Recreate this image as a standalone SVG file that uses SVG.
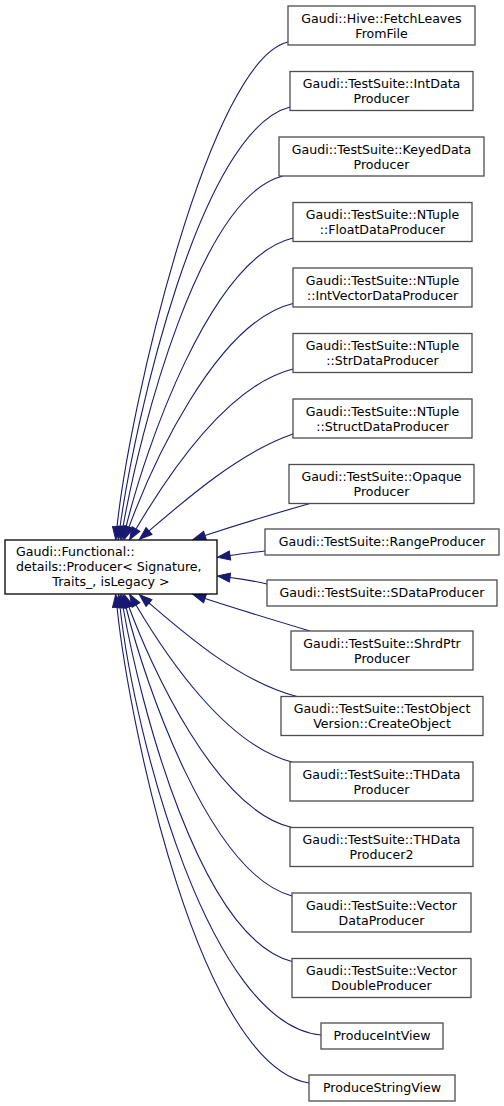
<svg xmlns="http://www.w3.org/2000/svg" width="504" height="1106" viewBox="0 0 504 1106">
<style>
.n rect{fill:#ffffff;stroke:#4d4d4d;stroke-width:1.3}
.m rect{fill:#ffffff;stroke:#000000;stroke-width:1.3}
text{font-family:"DejaVu Sans","Liberation Sans",sans-serif;font-size:12.6px;fill:#000000}
.c{text-anchor:middle}
.e path{fill:none;stroke:#191970;stroke-width:1.1;marker-start:url(#ah)}
</style>
<defs>
<marker id="ah" markerUnits="userSpaceOnUse" viewBox="-1 -1 15 11" markerWidth="15" markerHeight="11" refX="0" refY="4.5" orient="auto-start-reverse">
<path d="M0,0 L12.6,4.5 L0,9 z" fill="#191970" stroke="#191970" stroke-width="1"/>
</marker>
</defs>
<rect width="504" height="1106" fill="#ffffff"/>
<g id="connectors" class="e">
<path d="M117,527 C130,404 210,60 288,42"/>
<path d="M120,527 C135,420 200,130 290,107"/>
<path d="M123,527 C140,430 200,196 283,176"/>
<path d="M126,527 C145,450 210,258 293,238"/>
<path d="M129,527 C150,470 215,322 293,303.5"/>
<path d="M136,529 C165,480 225,386 293,369"/>
<path d="M149,531 C185,500 240,452 293,434"/>
<path d="M205,535.5 C240,524 280,512 310,503.5"/>
<path d="M230,555.5 C240,554 252,552.5 265,551"/>
<path d="M230,577.5 C242,579 254,581 267,584"/>
<path d="M205,598.5 C240,610 280,622 310,631"/>
<path d="M149,603 C185,634 240,682 297,696.5"/>
<path d="M136,605 C165,654 225,745 292,762"/>
<path d="M129,607 C150,664 215,810 292,827.5"/>
<path d="M126,607 C145,684 210,874 292,896"/>
<path d="M123,607 C140,704 200,938 292,961.5"/>
<path d="M120,607 C135,740 210,1025 321,1035"/>
<path d="M117,607 C130,730 200,1065 309,1083"/>
</g>
<g id="main" class="m">
<rect x="5" y="540" width="212" height="54"/>
<text x="16" y="556">Gaudi::Functional::</text>
<text x="16" y="571">details::Producer&lt; Signature,</text>
<text x="111" y="586" class="c">Traits_, isLegacy &gt;</text>
</g>
<g id="n1" class="n"><rect x="288" y="6" width="187" height="39"/><text x="381.5" y="22.5" class="c">Gaudi::Hive::FetchLeaves</text><text x="381.5" y="37.5" class="c">FromFile</text></g>
<g id="n2" class="n"><rect x="290" y="71.5" width="183" height="39"/><text x="381.5" y="88" class="c">Gaudi::TestSuite::IntData</text><text x="381.5" y="103" class="c">Producer</text></g>
<g id="n3" class="n"><rect x="279" y="137" width="205" height="39"/><text x="381.5" y="153.5" class="c">Gaudi::TestSuite::KeyedData</text><text x="381.5" y="168.5" class="c">Producer</text></g>
<g id="n4" class="n"><rect x="293" y="202.5" width="179" height="39"/><text x="382.5" y="219" class="c">Gaudi::TestSuite::NTuple</text><text x="382.5" y="234" class="c">::FloatDataProducer</text></g>
<g id="n5" class="n"><rect x="293" y="268" width="179" height="39"/><text x="382.5" y="284.5" class="c">Gaudi::TestSuite::NTuple</text><text x="382.5" y="299.5" class="c">::IntVectorDataProducer</text></g>
<g id="n6" class="n"><rect x="293" y="333.5" width="179" height="39"/><text x="382.5" y="350" class="c">Gaudi::TestSuite::NTuple</text><text x="382.5" y="365" class="c">::StrDataProducer</text></g>
<g id="n7" class="n"><rect x="293" y="399" width="179" height="39"/><text x="382.5" y="415.5" class="c">Gaudi::TestSuite::NTuple</text><text x="382.5" y="430.5" class="c">::StructDataProducer</text></g>
<g id="n8" class="n"><rect x="289" y="464.5" width="185" height="39"/><text x="381.5" y="481" class="c">Gaudi::TestSuite::Opaque</text><text x="381.5" y="496" class="c">Producer</text></g>
<g id="n9" class="n"><rect x="265" y="529" width="234" height="26"/><text x="382" y="545.5" class="c">Gaudi::TestSuite::RangeProducer</text></g>
<g id="n10" class="n"><rect x="267" y="580" width="230" height="26"/><text x="382" y="596.5" class="c">Gaudi::TestSuite::SDataProducer</text></g>
<g id="n11" class="n"><rect x="291" y="631" width="182" height="39"/><text x="382" y="647.5" class="c">Gaudi::TestSuite::ShrdPtr</text><text x="382" y="662.5" class="c">Producer</text></g>
<g id="n12" class="n"><rect x="281" y="696.5" width="202" height="39"/><text x="382" y="713" class="c">Gaudi::TestSuite::TestObject</text><text x="382" y="728" class="c">Version::CreateObject</text></g>
<g id="n13" class="n"><rect x="290" y="762" width="183" height="39"/><text x="381.5" y="778.5" class="c">Gaudi::TestSuite::THData</text><text x="381.5" y="793.5" class="c">Producer</text></g>
<g id="n14" class="n"><rect x="290" y="827.5" width="183" height="39"/><text x="381.5" y="844" class="c">Gaudi::TestSuite::THData</text><text x="381.5" y="859" class="c">Producer2</text></g>
<g id="n15" class="n"><rect x="292" y="893" width="179" height="39"/><text x="381.5" y="909.5" class="c">Gaudi::TestSuite::Vector</text><text x="381.5" y="924.5" class="c">DataProducer</text></g>
<g id="n16" class="n"><rect x="292" y="958.5" width="179" height="39"/><text x="381.5" y="975" class="c">Gaudi::TestSuite::Vector</text><text x="381.5" y="990" class="c">DoubleProducer</text></g>
<g id="n17" class="n"><rect x="321" y="1023" width="122" height="26"/><text x="382" y="1039.5" class="c">ProduceIntView</text></g>
<g id="n18" class="n"><rect x="309" y="1075" width="146" height="26"/><text x="382" y="1091.5" class="c">ProduceStringView</text></g>
</svg>
